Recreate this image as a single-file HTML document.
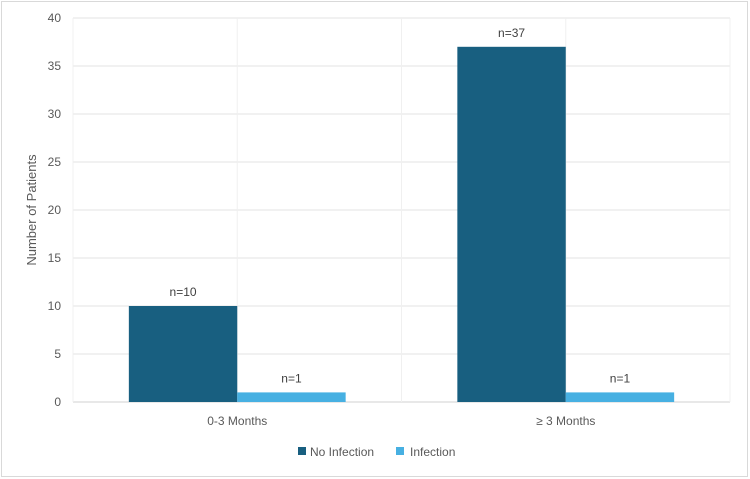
<!DOCTYPE html>
<html><head><meta charset="utf-8"><style>
body{margin:0;background:#fff;}
svg{display:block;font-family:"Liberation Sans",sans-serif;}
</style></head><body>
<svg id="c" width="750" height="479">
<rect x="1.5" y="1.5" width="746" height="475" fill="#fff" stroke="#d9d9d9"/>
<g id="grid"></g><g id="bars"></g><g id="labels"></g>
<text transform="translate(36,210) rotate(-90)" text-anchor="middle" font-size="13" fill="#595959">Number of Patients</text>
<g>
<rect x="298" y="447" width="8" height="8" fill="#185f80"/>
<text x="310" y="456" font-size="12" fill="#595959">No Infection</text>
<rect x="396" y="447" width="8" height="8" fill="#47b0e2"/>
<text x="410" y="456" font-size="12" fill="#595959">Infection</text>
</g>
</svg>
<script>
const categories=["0-3 Months","\u2265 3 Months"];
const noInfection=[10,37];
const infection=[1,1];
const yTicks=[0,5,10,15,20,25,30,35,40];
const L=73,R=730,T=18,B=402,YMAX=40;
const NS="http://www.w3.org/2000/svg";
function y(v){return B-(v/YMAX)*(B-T);}
const cw=(R-L)/categories.length;
function cx(i){return L+cw*(i+0.5);}
const bw=cw*0.33;
function mk(tag,attrs,parent,text){const e=document.createElementNS(NS,tag);for(const k in attrs)e.setAttribute(k,attrs[k]);if(text!=null)e.textContent=text;parent.appendChild(e);return e;}
const grid=document.getElementById('grid'),bars=document.getElementById('bars'),labels=document.getElementById('labels');
yTicks.forEach(t=>{
 const l=mk('line',{x1:L,x2:R,y1:y(t),y2:y(t),stroke:t===0?'#d0d0d0':'#e3e3e3','stroke-width':1},grid);
 
 
 const tx=mk('text',{x:61,y:y(t)+4,'text-anchor':'end','font-size':12,fill:'#595959'},labels,String(t));
 
 
});
for(let i=0;i<=categories.length*2;i++){
 const x=L+cw*i/2;
 const l=mk('line',{x1:x,x2:x,y1:T,y2:B,stroke:'#f0f0f0','stroke-width':1},grid);
 
 
}
categories.forEach((c,i)=>{
 const series=[[noInfection,'#185f80','no-infection',-1],[infection,'#47b0e2','infection',0]];
 series.forEach(([arr,col,nm,off])=>{
  const x=cx(i)+off*bw, v=arr[i];
  const r=mk('rect',{x:x,y:y(v),width:bw,height:B-y(v),fill:col},bars);
  
  
  const t=mk('text',{x:x+bw/2,y:y(v)-10,'text-anchor':'middle','font-size':12,fill:'#404040'},labels,'n='+v);
  
  
 });
 const t=mk('text',{x:cx(i),y:425,'text-anchor':'middle','font-size':12,fill:'#595959'},labels,c);
 
 
});
</script>
</body></html>
